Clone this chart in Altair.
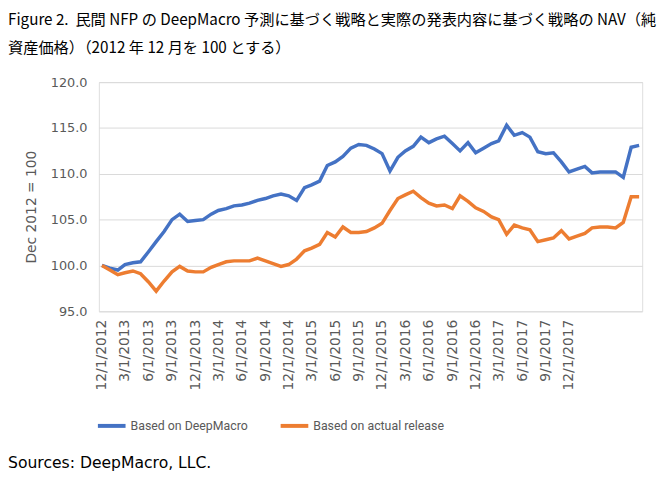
import altair as alt
import pandas as pd

# ---- data ----
start_month = "2012-12-01"
n_months = 70

series_names = ["Based on DeepMacro", "Based on actual release"]
series_colors = ["#4472C4", "#ED7D31"]

deepmacro = [100.0, 99.7, 99.5, 100.1, 100.3, 100.4, 101.5, 102.6, 103.7, 105.0,
             105.6, 104.8, 104.9, 105.0, 105.6, 106.0, 106.2, 106.5, 106.6, 106.8,
             107.1, 107.3, 107.6, 107.8, 107.6, 107.1, 108.5, 108.8, 109.2, 110.9,
             111.3, 111.9, 112.8, 113.2, 113.1, 112.7, 112.2, 110.3, 111.8, 112.5,
             113.0, 114.0, 113.4, 113.8, 114.1, 113.3, 112.5, 113.4, 112.3, 112.8,
             113.3, 113.6, 115.3, 114.2, 114.5, 114.0, 112.4, 112.2, 112.3, 111.3,
             110.2, 110.5, 110.8, 110.1, 110.2, 110.2, 110.2, 109.6, 112.9, 113.1]

actual = [100.0, 99.5, 99.0, 99.2, 99.4, 99.1, 98.2, 97.2, 98.3, 99.3,
          99.9, 99.4, 99.3, 99.3, 99.8, 100.1, 100.4, 100.5, 100.5, 100.5,
          100.8, 100.5, 100.2, 99.9, 100.1, 100.7, 101.6, 101.9, 102.3, 103.6,
          103.1, 104.2, 103.6, 103.6, 103.7, 104.1, 104.6, 106.0, 107.3, 107.7,
          108.1, 107.4, 106.8, 106.5, 106.6, 106.2, 107.6, 107.0, 106.3, 105.9,
          105.3, 105.0, 103.4, 104.4, 104.1, 103.9, 102.6, 102.8, 103.0, 103.8,
          102.9, 103.2, 103.5, 104.1, 104.2, 104.2, 104.1, 104.7, 107.5, 107.5]

tick_dates = [(2012, 12), (2013, 3), (2013, 6), (2013, 9), (2013, 12), (2014, 3),
              (2014, 6), (2014, 9), (2014, 12), (2015, 3), (2015, 6), (2015, 9),
              (2015, 12), (2016, 3), (2016, 6), (2016, 9), (2016, 12), (2017, 3),
              (2017, 6), (2017, 9), (2017, 12)]

y_ticks = [95, 100, 105, 110, 115, 120]

title_lines = [
    "Figure 2.\u00a0\u00a0民間 NFP の DeepMacro 予測に基づく戦略と実際の発表内容に基づく戦略の NAV（純",
    "資産価格）（2012 年 12 月を 100 とする）",
]
source_text = "Sources: DeepMacro, LLC."
y_title = "Dec 2012 = 100"

# ---- build table ----
dates = pd.date_range(start_month, periods=n_months, freq="MS").strftime("%Y-%m-%d").tolist()
df = pd.DataFrame({
    "date": dates * 2,
    "value": deepmacro + actual,
    "series": [series_names[0]] * n_months + [series_names[1]] * n_months,
})

GRAY = "#595959"
AXIS_FONT = "DejaVu Sans"

x_enc = alt.X(
    "date:T",
    scale=alt.Scale(
        type="utc",
        domain=[alt.DateTime(year=2012, month=11, date=19, utc=True),
                alt.DateTime(year=2018, month=9, date=13, utc=True)],
    ),
    axis=alt.Axis(
        values=[alt.DateTime(year=y, month=m, date=1, utc=True) for y, m in tick_dates],
        labelExpr="utcFormat(datum.value, '%-m/%-d/%Y')",
        labelAngle=270,
        labelAlign="right",
        labelBaseline="middle",
        labelFont=AXIS_FONT,
        labelFontSize=14,
        labelColor=GRAY,
        labelPadding=8,
        ticks=False,
        domain=False,
        grid=False,
        title=None,
        labelOverlap=False,
    ),
)

y_enc = alt.Y(
    "value:Q",
    scale=alt.Scale(domain=[95, 120], nice=False, zero=False),
    axis=alt.Axis(
        values=y_ticks,
        format=".1f",
        labelFont=AXIS_FONT,
        labelFontSize=13,
        labelColor=GRAY,
        labelPadding=12,
        ticks=False,
        domain=False,
        grid=True,
        gridColor="#d9d9d9",
        gridWidth=1,
        title=y_title,
        titleFont=AXIS_FONT,
        titleFontSize=14,
        titleFontWeight="normal",
        titleColor=GRAY,
        titlePadding=12,
        titleY=126,
    ),
)

lines = alt.Chart(df).mark_line(strokeWidth=3.5).encode(
    x=x_enc,
    y=y_enc,
    color=alt.Color(
        "series:N",
        sort=series_names,
        scale=alt.Scale(domain=series_names, range=series_colors),
        legend=alt.Legend(
            title=None,
            orient="none",
            direction="horizontal",
            legendX=-3,
            legendY=332,
            symbolType="stroke",
            symbolStrokeWidth=4,
            symbolSize=784,
            labelFont="Roboto",
            labelFontSize=12.5,
            labelColor=GRAY,
            labelOffset=3,
            columnPadding=25,
        ),
    ),
)

src = alt.Chart(pd.DataFrame({"t": [source_text]})).mark_text(
    align="left", baseline="middle", fontSize=15.8, font="DejaVu Sans", color="#000000"
).encode(
    x=alt.value(-92),
    y=alt.value(386),
    text="t:N",
)

chart = alt.layer(lines, src).properties(
    width=550,
    height=232,
    title=alt.TitleParams(
        text=title_lines,
        anchor="start",
        frame="group",
        dx=-92,
        offset=20,
        font="Noto Sans CJK JP",
        fontSize=15.4,
        fontWeight="normal",
        color="#000000",
        lineHeight=28,
    ),
    autosize=alt.AutoSizeParams(type="none"),
    padding={"left": 92, "top": 72, "right": 15, "bottom": 190},
).configure_view(stroke=None).configure(background="white")

chart.save("out.html", embed_options={"renderer": "svg", "actions": False})
